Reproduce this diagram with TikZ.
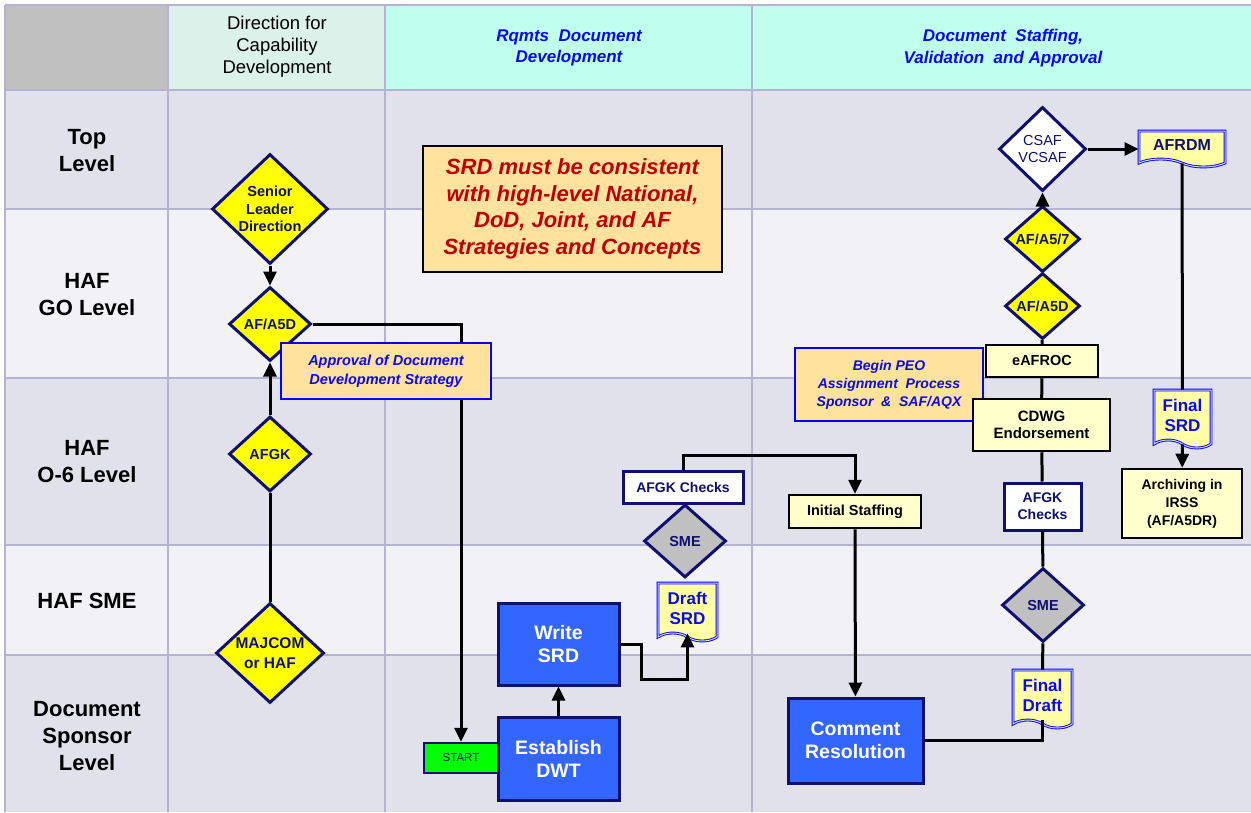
\documentclass[tikz,border=0pt]{standalone}
\usepackage{fontspec}
\setmainfont{Liberation Sans}
\usepackage{xcolor}
\usetikzlibrary{arrows.meta, shapes.geometric, shapes.symbols}

\definecolor{gridln}{HTML}{B4B4D2}
\definecolor{rowdk}{HTML}{E1E1EB}
\definecolor{rowlt}{HTML}{F1F1F6}
\definecolor{hdgray}{HTML}{C0C0C0}
\definecolor{hdmint}{HTML}{DCF1E9}
\definecolor{hdcyan}{HTML}{C0FEEE}
\definecolor{navyc}{HTML}{10106E}
\definecolor{diayel}{HTML}{FFFF00}
\definecolor{procblue}{HTML}{3366FF}
\definecolor{paleyel}{HTML}{FFFFCC}
\definecolor{docyel}{HTML}{FFFFA6}
\definecolor{notefill}{HTML}{FFE29E}
\definecolor{txtblue}{HTML}{0A0AF0}
\definecolor{txtred}{HTML}{C00000}
\definecolor{startgrn}{HTML}{00FF00}

\begin{document}
\begin{tikzpicture}[
    x=1pt, y=-1pt,
    every node/.style={align=center, inner sep=0pt},
    grid/.style={draw=gridln, line width=2.5pt},
    dia/.style={diamond, draw=navyc, line width=3pt, fill=#1, text=navyc, font=\fontsize{14.5}{17.5}\selectfont\bfseries},
    dia/.default=diayel,
    proc/.style={rectangle, draw=navyc, line width=3pt, fill=procblue, text=white, font=\fontsize{19.5}{23}\selectfont\bfseries},
    act/.style={rectangle, draw=black, line width=2.5pt, fill=paleyel, font=\fontsize{14.5}{17.5}\selectfont\bfseries},
    chk/.style={rectangle, draw=navyc, line width=3pt, fill=white, text=navyc, font=\fontsize{14}{17}\selectfont\bfseries},
    note/.style={rectangle, draw=blue, line width=1.8pt, fill=notefill, text=txtblue, font=\fontsize{14.5}{18.5}\selectfont\bfseries\itshape},
    doc/.style={tape, tape bend top=none, tape bend bottom=out and in, tape bend height=8pt, draw=blue, double=blue!15, double distance=1pt, line width=0.9pt, fill=docyel, text=txtblue, font=\fontsize{17}{20}\selectfont\bfseries},
    lanelbl/.style={font=\fontsize{22}{27}\selectfont\bfseries},
    hdr/.style={font=\fontsize{17}{21.5}\selectfont\bfseries\itshape, text=txtblue},
    arr/.style={-{Triangle[length=14pt, width=13pt]}, line width=3pt},
    ln/.style={line width=3pt},
]
    \useasboundingbox (0,0) rectangle (1251,812);

    % --- swim lanes and header cells ---
    \fill[white] (0,0) rectangle (1251,812);
    \foreach \ya/\yb/\c in {90/209/rowdk, 209/378/rowlt, 378/545/rowdk, 545/655/rowlt, 655/812/rowdk}
        \fill[\c] (5,\ya) rectangle (1251,\yb);
    \fill[hdgray] (5,5) rectangle (168,90);
    \fill[hdmint] (168,5) rectangle (385,90);
    \fill[hdcyan] (385,5) rectangle (1251,90);
    \foreach \y in {5,90,209,378,545,655}
        \draw[grid] (5,\y) -- (1251,\y);
    \foreach \x in {5,168,385,752}
        \draw[grid] (\x,5) -- (\x,812);

    % header texts
    \node[font=\fontsize{18.5}{22}\selectfont] (hdir) at (277,47) {Direction for\\Capability\\Development};
    \node[hdr] (hrq) at (569,48) {Rqmts~ Document\\Development};
    \node[hdr] (hst) at (1003,48) {Document~ Staffing,\\Validation~ and Approval};

    % lane labels
    \node[lanelbl] (ltop) at (87,151) {Top\\Level};
    \node[lanelbl] (lgo) at (87,295) {HAF\\GO Level};
    \node[lanelbl] (lo6) at (87,462) {HAF\\O-6 Level};
    \node[lanelbl] (lsme) at (87,601) {HAF SME};
    \node[lanelbl] (lspn) at (87,736) {Document\\Sponsor\\Level};

    % --- direction column ---
    \node[dia, minimum width=116pt, minimum height=110pt] (sld) at (270,209) {Senior\\Leader\\Direction};
    \node[dia, minimum width=82pt, minimum height=74pt] (a5dl) at (270,324) {AF/A5D};
    \node[dia, minimum width=82pt, minimum height=75pt] (afgkl) at (270,454) {AFGK};
    \node[dia, minimum width=108pt, minimum height=100pt, font=\fontsize{15.5}{19.5}\selectfont\bfseries] (majcom) at (270,653) {MAJCOM\\or HAF};

    % --- document development column ---
    \node[rectangle, draw=black, line width=1.8pt, fill=notefill, text=txtred, font=\fontsize{22}{26.5}\selectfont\bfseries\itshape, minimum width=299pt, minimum height=126pt] (srdnote) at (572.5,209)
        {SRD must be consistent\\with high-level National,\\DoD, Joint, and AF\\Strategies and Concepts};
    \node[rectangle, draw=navyc, line width=2.5pt, fill=startgrn, text=navyc, font=\fontsize{11.5}{13}\selectfont, minimum width=74pt, minimum height=30pt] (start) at (461,758) {START};
    \node[proc, minimum width=121pt, minimum height=83pt] (est) at (558.5,758.5) {Establish\\DWT};
    \node[proc, minimum width=121pt, minimum height=82pt] (wsrd) at (558.5,644) {Write\\SRD};
    \node[doc, minimum width=59pt, minimum height=58pt] (dsrd) at (687.5,608) {Draft\\SRD};
    \node[dia=hdgray, minimum width=82pt, minimum height=73pt] (sme1) at (685,541) {SME};
    \node[chk, minimum width=120pt, minimum height=32pt] (afgkc) at (683,487) {AFGK Checks};
    \node[act, minimum width=132pt, minimum height=33pt] (inis) at (855,511.5) {Initial Staffing};
    \node[proc, minimum width=135pt, minimum height=85pt] (cres) at (855.5,740.5) {Comment\\Resolution};

    % --- staffing / approval column ---
    \node[dia=white, minimum width=87pt, minimum height=84pt, font=\fontsize{14.5}{17.5}\selectfont] (csaf) at (1042.5,149) {CSAF\\VCSAF};
    \node[dia, minimum width=75pt, minimum height=66pt] (a57) at (1042.5,239) {AF/A5/7};
    \node[dia, minimum width=75pt, minimum height=66pt] (a5dr) at (1042.5,306) {AF/A5D};
    \node[act, minimum width=112pt, minimum height=32pt] (eafroc) at (1042,361) {eAFROC};
    \node[note, font=\fontsize{14}{18}\selectfont\bfseries\itshape, minimum width=188pt, minimum height=73pt] (peo) at (889,384.5)
        {Begin PEO\\Assignment~ Process\\Sponsor~ \&~ SAF/AQX};
    \node[act, font=\fontsize{15}{17.5}\selectfont\bfseries, minimum width=137pt, minimum height=52pt] (cdwg) at (1041.5,425) {CDWG\\Endorsement};
    \node[chk, minimum width=77pt, minimum height=47pt] (afgk2) at (1042.5,506.5) {AFGK\\Checks};
    \node[dia=hdgray, minimum width=82pt, minimum height=74pt] (sme2) at (1043,605) {SME};
    \node[doc, minimum width=59pt, minimum height=58pt] (fdraft) at (1042.5,695) {Final\\Draft};
    \node[doc, text=navyc, font=\fontsize{16}{19}\selectfont\bfseries, minimum width=86pt, minimum height=36pt] (afrdm) at (1182,145) {AFRDM};
    \node[doc, minimum width=57pt, minimum height=58pt] (fsrd) at (1182.5,415) {Final\\SRD};
    \node[act, minimum width=120pt, minimum height=69pt, font=\fontsize{14}{18}\selectfont\bfseries] (arch) at (1182,503.5) {Archiving in\\IRSS\\(AF/A5DR)};

    % --- connectors ---
    \draw[arr] (sld) -- (a5dl);
    \draw[ln] (majcom) -- (afgkl);
    \draw[arr] (afgkl) -- (a5dl);
    \draw[arr] (a5dl.east) -| (start.north);

    \draw[arr] (est) -- (wsrd);
    \draw[arr] (wsrd.east) -- ++(21,0) -- ++(0,35) -| (dsrd.south);
    \draw[arr] (afgkc.north) -- ++(0,-14) -| (inis.north);
    \draw[arr] (inis) -- (cres);
    \draw[ln] (cres.east) -| (fdraft.south);

    \draw[ln] (sme2) -- (fdraft);
    \draw[ln] (afgk2) -- (sme2);
    \draw[ln] (cdwg) -- (afgk2);
    \draw[ln] (eafroc) -- (cdwg);
    \draw[ln] (a5dr) -- (eafroc);
    \draw[arr] (a57) -- (csaf);
    \draw[arr] (csaf.east) -- (csaf.east -| afrdm.west);
    \draw[ln] (afrdm) -- (fsrd);
    \draw[arr] (fsrd) -- (arch);

    % note box sits over the A5D -> START line
    \node[note, minimum width=210pt, minimum height=56pt] (approval) at (386,371) {Approval of Document\\Development Strategy};
\end{tikzpicture}
\end{document}
